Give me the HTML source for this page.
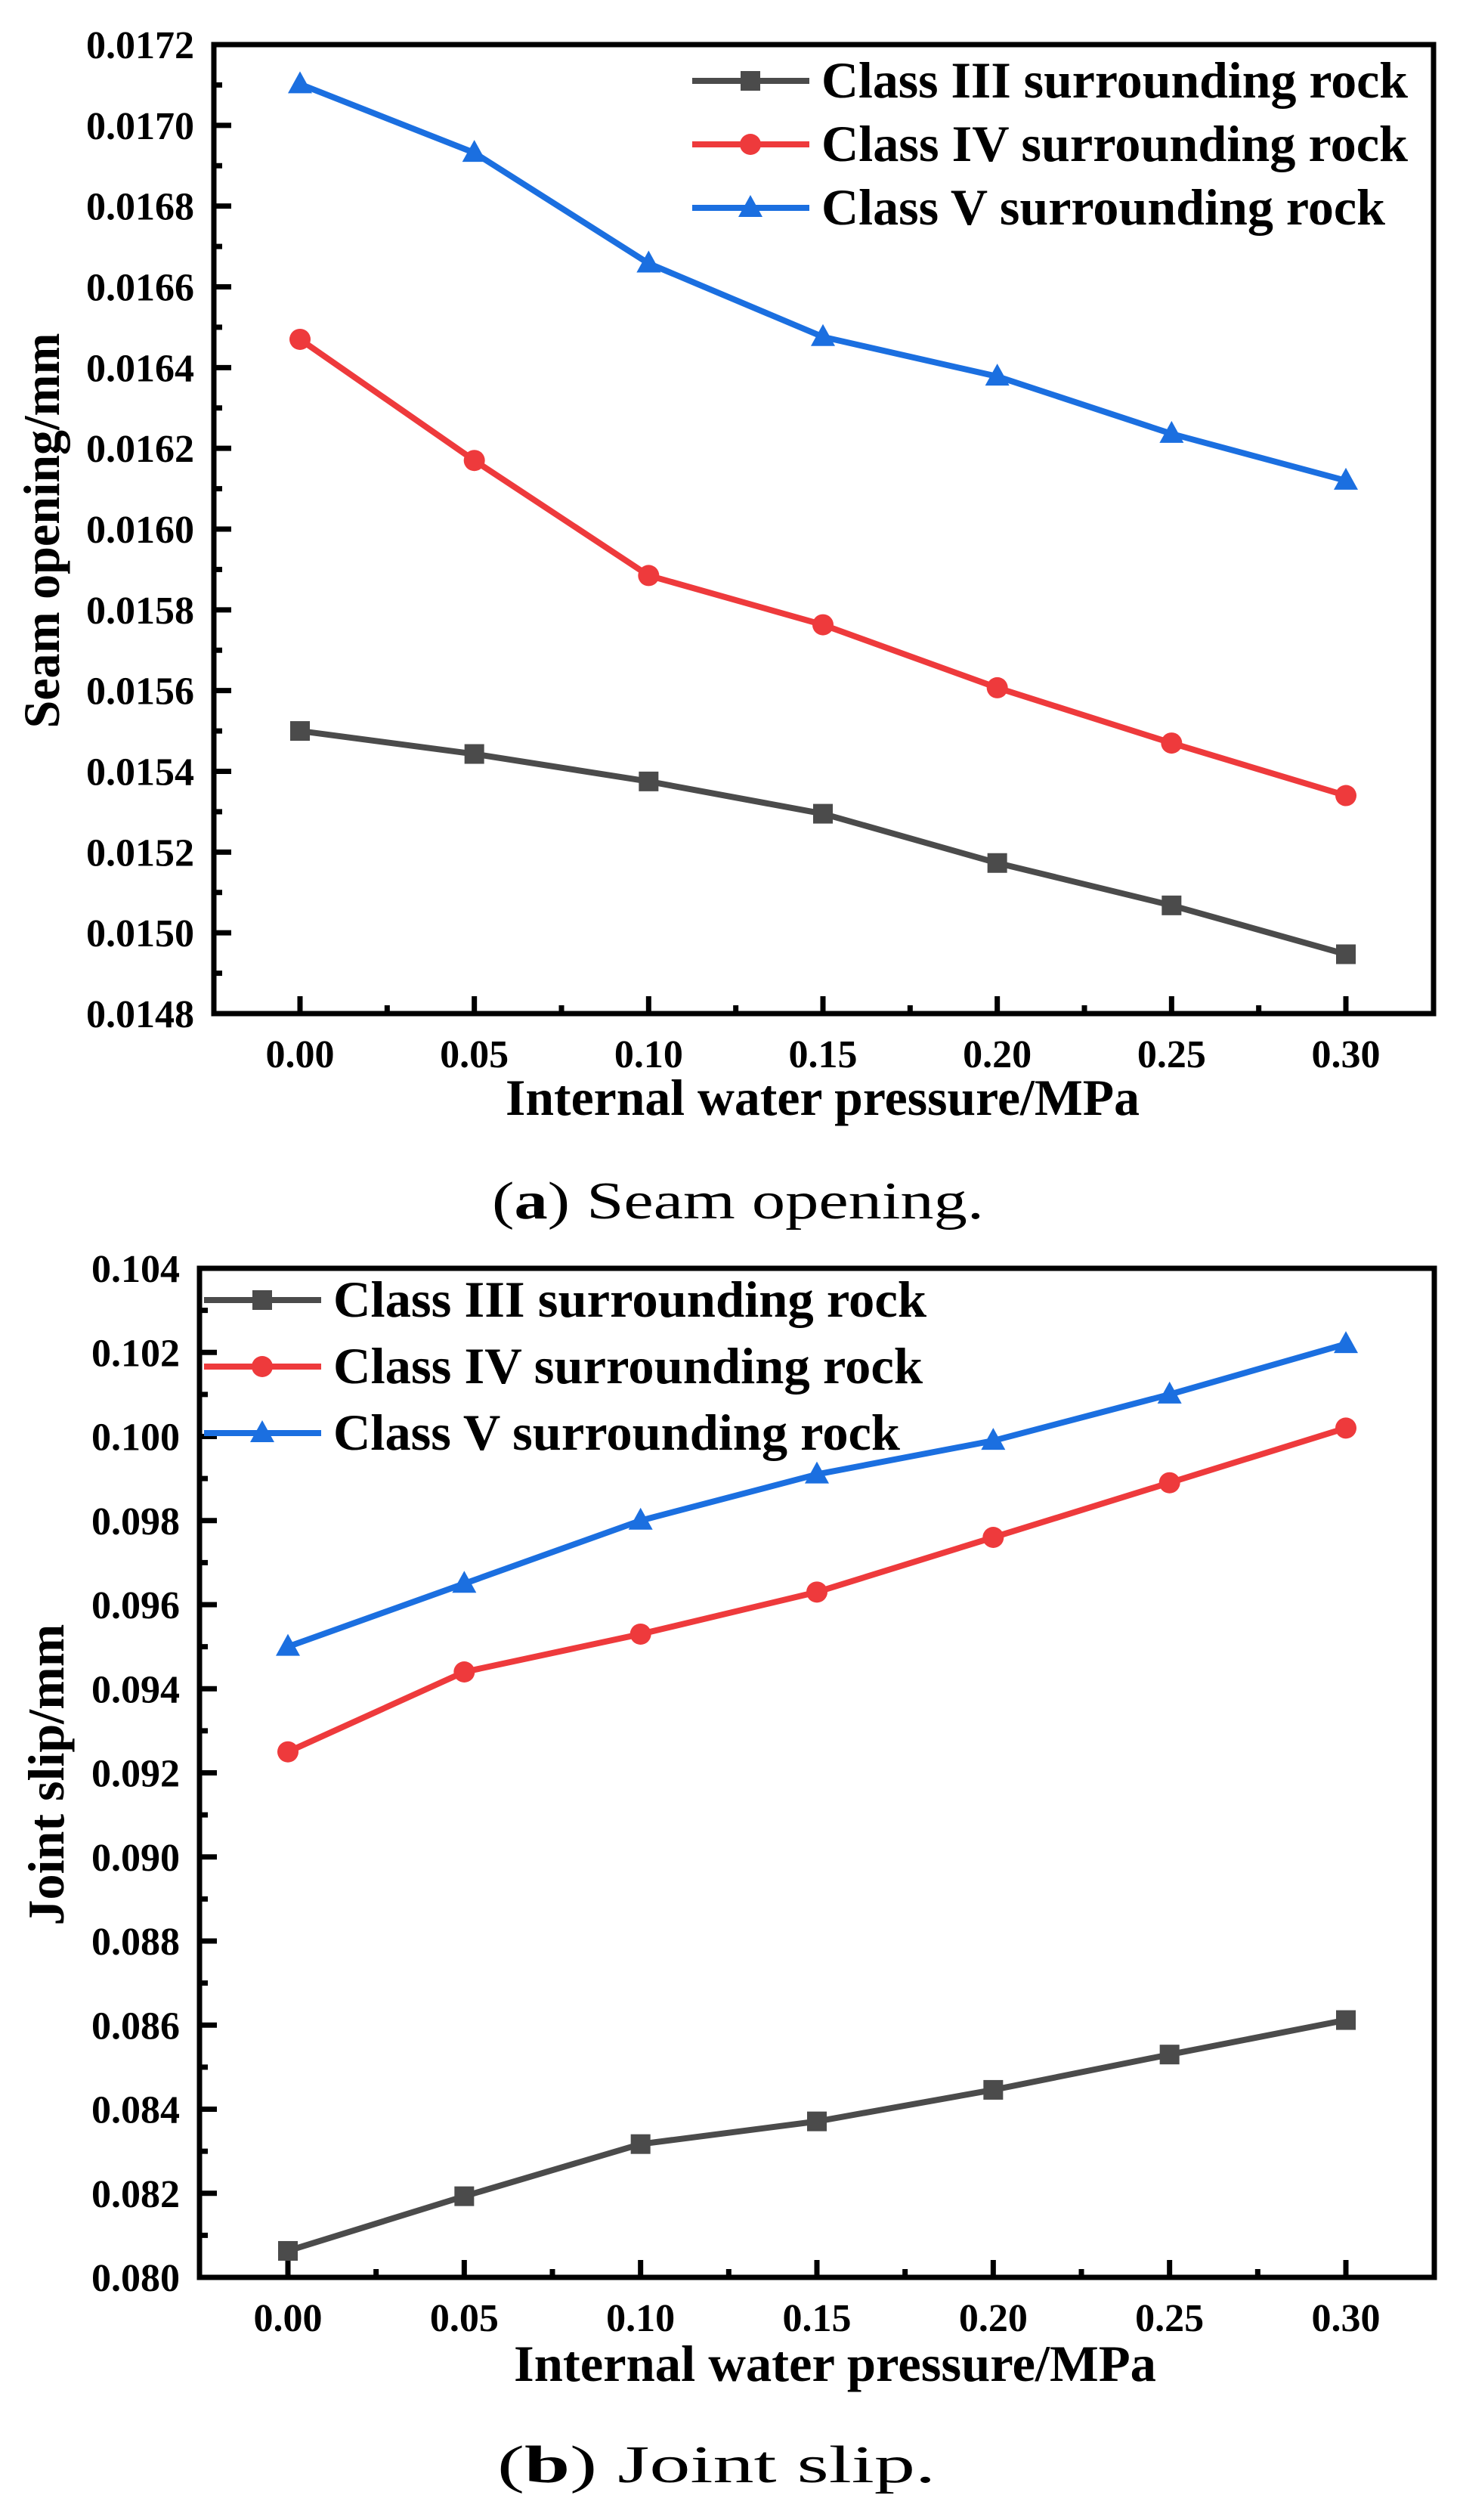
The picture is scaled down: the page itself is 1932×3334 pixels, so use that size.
<!DOCTYPE html>
<html><head><meta charset="utf-8"><style>
html,body{margin:0;padding:0;background:#fff}
svg{display:block}
text{font-family:"Liberation Serif",serif}
</style></head><body>
<svg id="fig" width="1932" height="3334" viewBox="0 0 1932 3334" xmlns="http://www.w3.org/2000/svg"></svg>
<script>
const xCats = [0.00, 0.05, 0.10, 0.15, 0.20, 0.25, 0.30];
const xTickLabels = ["0.00","0.05","0.10","0.15","0.20","0.25","0.30"];
const seriesNames = ["Class III surrounding rock","Class IV surrounding rock","Class V surrounding rock"];
const aClass3 = [0.01550, 0.015443, 0.015375, 0.015295, 0.015173, 0.015068, 0.014947];
const aClass4 = [0.016470, 0.016170, 0.015885, 0.015763, 0.015607, 0.015470, 0.015340];
const aClass5 = [0.017102, 0.016932, 0.016658, 0.016476, 0.016378, 0.016236, 0.016120];
const aYTicks = [0.0148,0.0150,0.0152,0.0154,0.0156,0.0158,0.0160,0.0162,0.0164,0.0166,0.0168,0.0170,0.0172];
const aYTickLabels = ["0.0148","0.0150","0.0152","0.0154","0.0156","0.0158","0.0160","0.0162","0.0164","0.0166","0.0168","0.0170","0.0172"];
const bClass3 = [0.08063, 0.08193, 0.08317, 0.08371, 0.08446, 0.08530, 0.08612];
const bClass4 = [0.0925, 0.0944, 0.0953, 0.0963, 0.0976, 0.0989, 0.1002];
const bClass5 = [0.0950, 0.0965, 0.0980, 0.0991, 0.0999, 0.1010, 0.1022];
const bYTicks = [0.080,0.082,0.084,0.086,0.088,0.090,0.092,0.094,0.096,0.098,0.100,0.102,0.104];
const bYTickLabels = ["0.080","0.082","0.084","0.086","0.088","0.090","0.092","0.094","0.096","0.098","0.100","0.102","0.104"];

const NS="http://www.w3.org/2000/svg";
const svg=document.getElementById('fig');
const colors=["#4b4b4b","#ee3a3c","#1b6fe0"];
function el(tag,attrs,parent){const e=document.createElementNS(NS,tag);for(const k in attrs)e.setAttribute(k,attrs[k]);(parent||svg).appendChild(e);return e;}

function marker(g,type,cx,cy,c){
  let m;
  if(type===0){m=el('rect',{x:cx-13,y:cy-13,width:26,height:26,fill:c},g);}
  else if(type===1){m=el('circle',{cx:cx,cy:cy,r:14,fill:c},g);}
  else {m=el('polygon',{points:`${cx},${cy-17} ${cx+16},${cy+12} ${cx-16},${cy+12}`,fill:c},g);}
  return m;
}

function chart(cfg){
  const g=el('g',{});
  
  
  const {L,R,T,B,x0,x1,yMin,yMax}=cfg;
  const xs=v=>x0+(v-xCats[0])/(xCats[xCats.length-1]-xCats[0])*(x1-x0);
  const ys=v=>B-(v-yMin)/(yMax-yMin)*(B-T);
  cfg.yTicks.forEach((v,i)=>{
    const y=ys(v);
    const t=el('line',{x1:L,y1:y,x2:L+23,y2:y,stroke:'#000','stroke-width':7},g);
    
    
    if(i<cfg.yTicks.length-1){const ym=ys(v+(cfg.yTicks[1]-cfg.yTicks[0])/2);
      const mt=el('line',{x1:L,y1:ym,x2:L+11,y2:ym,stroke:'#000','stroke-width':7},g);
      
      }
    const lb=el('text',{x:L-26,y:y+18,'font-size':52,'font-weight':'bold','text-anchor':'end'},g);
    lb.textContent=cfg.yLabels[i];
    
    
  });
  xCats.forEach((v,i)=>{
    const x=xs(v);
    const t=el('line',{x1:x,y1:B,x2:x,y2:B-23,stroke:'#000','stroke-width':7},g);
    
    
    if(i<xCats.length-1){const xm=xs(v+0.025);
      const mt=el('line',{x1:xm,y1:B,x2:xm,y2:B-11,stroke:'#000','stroke-width':7},g);
      
      }
    const lb=el('text',{x:x,y:B+71,'font-size':52,'font-weight':'bold','text-anchor':'middle'},g);
    lb.textContent=xTickLabels[i];
    
    
  });
  cfg.series.forEach((arr,si)=>{
    const sg=el('g',{},g);
    
    
    const pts=arr.map((v,i)=>xs(xCats[i])+','+ys(v)).join(' ');
    const pl=el('polyline',{points:pts,fill:'none',stroke:colors[si],'stroke-width':8,'stroke-linejoin':'round'},sg);
    
    
    arr.forEach((v,i)=>{const m=marker(sg,si,xs(xCats[i]),ys(v),colors[si]);
      
      });
  });
  const fr=el('rect',{x:L,y:T,width:R-L,height:B-T,fill:'none',stroke:'#000','stroke-width':7},g);
  
  
  const lg=el('g',{},g);
  
  
  seriesNames.forEach((n,i)=>{
    const y=cfg.legY[i];
    const ln=el('line',{x1:cfg.legX,y1:y,x2:cfg.legX+155,y2:y,stroke:colors[i],'stroke-width':8},lg);
    
    
    const m=marker(lg,i,cfg.legX+77,y,colors[i]);
    
    
    const t=el('text',{x:cfg.legX+171,y:y+22,'font-size':68,'font-weight':'bold',textLength:cfg.legW[i],lengthAdjust:'spacingAndGlyphs'},lg);
    t.textContent=n;
    
    
  });
  const xt=el('text',{x:cfg.xtX,y:cfg.xtY,'font-size':68,'font-weight':'bold',textLength:cfg.xtW,lengthAdjust:'spacingAndGlyphs'},g);
  xt.textContent='Internal water pressure/MPa';
  
  
  const yt=el('text',{x:0,y:0,'font-size':68,'font-weight':'bold','text-anchor':'middle',textLength:cfg.ytW,lengthAdjust:'spacingAndGlyphs',transform:`translate(${cfg.ytX},${cfg.ytY}) rotate(-90)`},g);
  yt.textContent=cfg.ytitle;
  
  
  const cp=el('text',{x:cfg.capX,y:cfg.capY,'font-size':70,textLength:cfg.capW,lengthAdjust:'spacingAndGlyphs'},g);
  const b=el('tspan',{},cp);b.textContent='(';
  const b2=el('tspan',{'font-weight':'bold'},cp);b2.textContent=cfg.capLetter;
  const b3=el('tspan',{},cp);b3.textContent=') '+cfg.capText;
  
  
}

chart({name:'chart-seam-opening',L:283,R:1897,T:59,B:1341,x0:397,x1:1781,yMin:0.0148,yMax:0.0172,
  yTicks:aYTicks,yLabels:aYTickLabels,series:[aClass3,aClass4,aClass5],
  legX:916,legY:[107,191,275],legW:[776,776,746],
  xtX:669,xtY:1475,xtW:839,ytX:78,ytY:702,ytW:523,ytitle:'Seam opening/mm',
  capX:651,capY:1612,capW:651,capLetter:'a',capText:'Seam opening.'});

chart({name:'chart-joint-slip',L:264,R:1898,T:1678,B:3013,x0:381,x1:1781,yMin:0.080,yMax:0.104,
  yTicks:bYTicks,yLabels:bYTickLabels,series:[bClass3,bClass4,bClass5],
  legX:270,legY:[1720,1808,1896],legW:[785,780,750],
  xtX:680,xtY:3150,xtW:850,ytX:84,ytY:2348,ytW:399,ytitle:'Joint slip/mm',
  capX:658,capY:3284,capW:580,capLetter:'b',capText:'Joint slip.'});
</script>
</body></html>
